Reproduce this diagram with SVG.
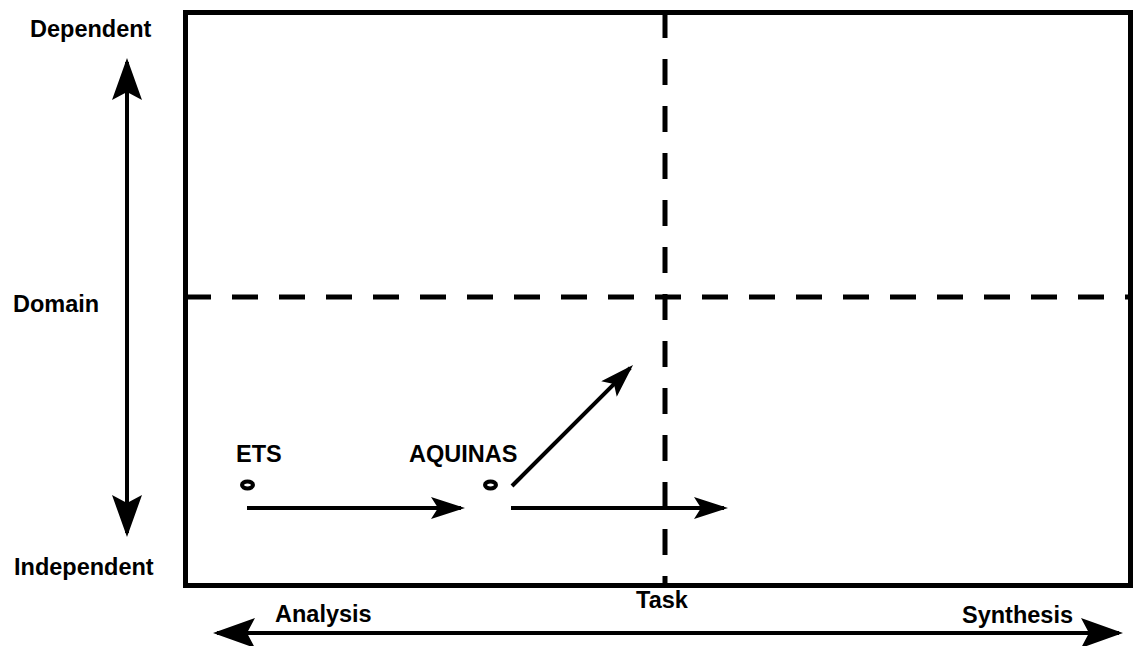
<svg xmlns="http://www.w3.org/2000/svg" width="1138" height="646" viewBox="0 0 1138 646">
<style>
text{font-family:"Liberation Sans",Arial,sans-serif;font-weight:bold;font-size:23.5px;fill:#000}
.frame{fill:none;stroke:#000;stroke-width:5}
.dash{fill:none;stroke:#000;stroke-width:5;stroke-dasharray:26 21}
.axis{fill:none;stroke:#000;stroke-width:4}
.arr{fill:none;stroke:#000;stroke-width:4}
.dot{fill:none;stroke:#000;stroke-width:4}
</style>
<defs>
<marker id="big" markerUnits="userSpaceOnUse" viewBox="0 0 42 30" refX="38" refY="15" markerWidth="42" markerHeight="30" orient="auto-start-reverse">
<path d="M0,0 L42,15 L0,30 L8,15 Z" fill="#000"/>
</marker>
<marker id="small" markerUnits="userSpaceOnUse" viewBox="0 0 34 22" refX="30" refY="11" markerWidth="34" markerHeight="22" orient="auto">
<path d="M0,0 L34,11 L0,22 L7,11 Z" fill="#000"/>
</marker>
</defs>
<g id="frame">
<rect class="frame" x="185.5" y="12.5" width="945" height="573"/>
<line class="dash" x1="665" y1="12" x2="665" y2="585"/>
<line class="dash" x1="185" y1="297" x2="1131" y2="297"/>
</g>
<g id="axes">
<line class="axis" x1="127" y1="62" x2="127" y2="533" marker-start="url(#big)" marker-end="url(#big)"/>
<line class="axis" x1="217" y1="633" x2="1119" y2="633" marker-start="url(#big)" marker-end="url(#big)"/>
</g>
<g id="labels">
<text x="30" y="37">Dependent</text>
<text x="13" y="312">Domain</text>
<text x="14" y="575">Independent</text>
<text x="275" y="622">Analysis</text>
<text x="662" y="608" text-anchor="middle">Task</text>
<text x="962" y="623">Synthesis</text>
</g>
<g id="node-ets">
<text x="236" y="462">ETS</text>
<ellipse class="dot" cx="247.5" cy="485" rx="5.5" ry="3.5"/>
</g>
<g id="node-aquinas">
<text x="409" y="462">AQUINAS</text>
<ellipse class="dot" cx="490.5" cy="485" rx="5.5" ry="3.5"/>
</g>
<g id="connectors">
<line class="arr" x1="247" y1="508" x2="461" y2="508" marker-end="url(#small)"/>
<line class="arr" x1="511" y1="508" x2="724" y2="508" marker-end="url(#small)"/>
<line class="arr" x1="512" y1="486" x2="630.2" y2="367.8" marker-end="url(#small)"/>
</g>
</svg>
